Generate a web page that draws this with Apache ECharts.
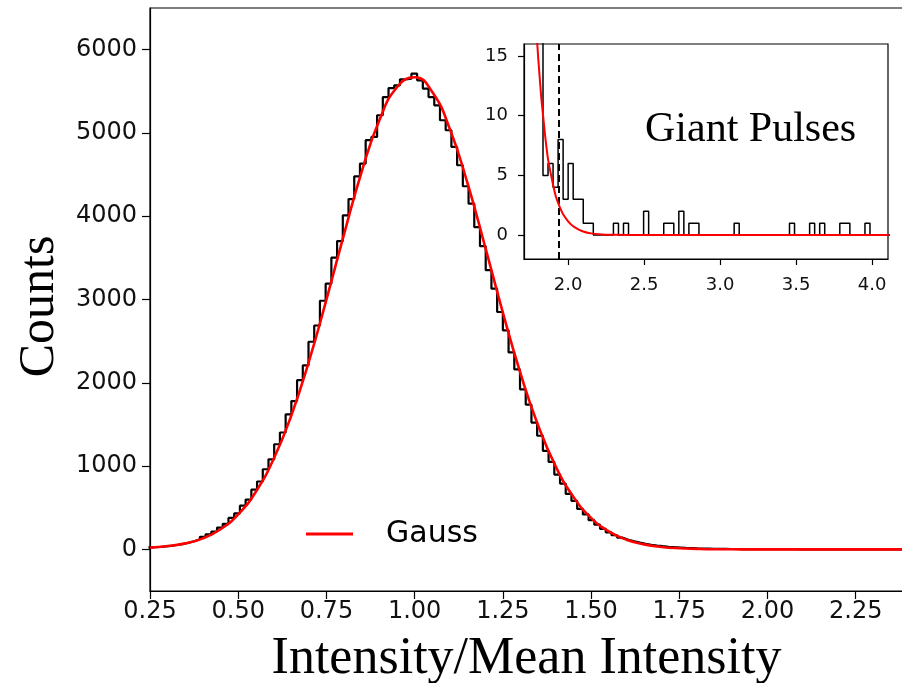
<!DOCTYPE html>
<html><head><meta charset="utf-8">
<script src="https://cdn.jsdelivr.net/npm/echarts@6/dist/echarts.min.js"></script>
<style>html,body{margin:0;padding:0;background:#fff}#c{width:902px;height:683px}</style>
</head><body><div id="c"></div>
<script>
// ---- main histogram (Intensity / Mean Intensity) ----
const histStart = 0.2456;
const histBinWidth = 0.0162;
const histCounts = [
  25, 28, 34, 41, 52, 63, 80, 98, 121, 150,
  181, 214, 262, 306, 377, 431, 524, 598, 716, 815,
  962, 1081, 1262, 1403, 1621, 1780, 2031, 2209, 2493, 2688,
  2985, 3190, 3502, 3702, 4011, 4206, 4478, 4632, 4913, 4952,
  5212, 5431, 5539, 5572, 5644, 5652, 5712, 5632, 5532, 5431,
  5332, 5152, 5032, 4832, 4612, 4360, 4150, 3868, 3640, 3352,
  3130, 2850, 2630, 2365, 2160, 1921, 1738, 1522, 1364, 1183,
  1050, 898, 790, 665, 582, 486, 420, 350, 296, 246,
  205, 170, 140, 116, 96, 80, 66, 55, 46, 38,
  31, 26, 22, 18, 15, 12, 10, 9, 7, 6,
  5, 4, 4, 3, 3, 2, 3, 2, 1, 2,
  1, 1, 1, 0, 1, 0, 1, 0, 0, 1,
  0, 0, 0, 0, 0, 0, 0, 0, 0, 0, 0, 0
];
// ---- Gauss fit curve (main) ----
const gaussX = [0.25,0.30,0.35,0.40,0.45,0.50,0.55,0.60,0.65,0.70,0.75,0.80,0.85,0.90,0.95,1.00,
  1.05,1.10,1.15,1.20,1.25,1.30,1.35,1.40,1.45,1.50,1.55,1.60,1.65,1.70,1.75,1.80,1.85,1.90,1.95,
  2.00,2.10,2.20,2.30,2.40];
const gaussY = [22,40,72,132,242,420,692,1082,1602,2250,2998,3786,4536,5152,5549,5669,
  5491,5044,4393,3629,2843,2112,1487,994,630,378,215,116,60,29,13,6,2,1,0,
  0,0,0,0,0];
const xTicks = [0.25,0.50,0.75,1.00,1.25,1.50,1.75,2.00,2.25];
const yTicks = [0,1000,2000,3000,4000,5000,6000];

// ---- inset: Giant Pulses ----
const insetHistStart = 1.7026;
const insetBinWidth = 0.0331;
const insetCounts = [
  55, 38, 26, 19,
  5, 6, 4, 8, 3, 6, 3, 3, 1, 1,
  0, 0, 0, 0, 1, 0, 1, 0, 0, 0,
  2, 0, 0, 0, 1, 1, 0, 2, 0, 1,
  1, 0, 0, 0, 0, 0, 0, 0, 1, 0,
  0, 0, 0, 0, 0, 0, 0, 0, 0, 1,
  0, 0, 0, 1, 0, 1, 0, 0, 0, 1,
  1, 0, 0, 0, 1, 0, 0, 0, 0, 0,
  0, 0, 0
];
const insetGaussX = [1.70,1.75,1.80,1.85,1.90,1.95,2.00,2.05,2.10,2.15,2.20,2.30,2.50,3.00,3.50,4.11];
const insetGaussY = [50,28,15.5,8.2,4.3,2.2,1.15,0.6,0.3,0.15,0.07,0.02,0,0,0,0];
const insetXTicks = [2.0,2.5,3.0,3.5,4.0];
const insetYTicks = [0,5,10,15];
const gpThreshold = 1.94;

function stepData(start, w, counts) {
  const d = counts.map((c, i) => [start + i * w, c]);
  d.push([start + counts.length * w, counts[counts.length - 1]]);
  return d;
}
function pairs(xs, ys) { return xs.map((x, i) => [x, ys[i]]); }

const tickFont = 'DejaVu Sans';
const serif = 'Liberation Serif';
const ink = '#111';

const chart = echarts.init(document.getElementById('c'), null, {renderer: 'canvas'});
chart.setOption({
  animation: false,
  backgroundColor: '#fff',
  title: {
    text: 'Giant Pulses', left: 640, top: 104,
    textStyle: {fontFamily: serif, fontSize: 42, fontWeight: 'normal', color: '#000'}
  },
  legend: {
    data: ['Gauss'], left: 301, top: 512, icon: 'rect', itemWidth: 47, itemHeight: 3,
    textStyle: {fontFamily: tickFont, fontSize: 30, color: '#000', padding: [0, 0, 0, 28], lineHeight: 34}
  },
  grid: [
    {left: 150, top: 8, width: 753, height: 583, show: true, borderColor: '#000', borderWidth: 1.2,
     backgroundColor: '#fff', outerBoundsMode: 'none', containLabel: false},
    {left: 524, top: 44, width: 364, height: 215, show: true, borderColor: '#000', borderWidth: 1.2,
     backgroundColor: '#fff', z: 5, outerBoundsMode: 'none', containLabel: false}
  ],
  xAxis: [
    {type: 'value', gridIndex: 0, min: 0.25, max: 2.384,
     name: 'Intensity/Mean Intensity', nameLocation: 'middle', nameGap: 42,
     nameTextStyle: {fontFamily: serif, fontSize: 52, color: '#000'},
     axisLine: {show: true, onZero: false, lineStyle: {color: '#000', width: 1.2}},
     axisTick: {show: true, length: 8, customValues: xTicks, lineStyle: {color: '#000', width: 1.2}},
     axisLabel: {customValues: xTicks, margin: 9, fontFamily: tickFont, fontSize: 24, color: ink,
                 formatter: v => v.toFixed(2)},
     splitLine: {show: false}},
    {type: 'value', gridIndex: 1, min: 1.71, max: 4.105,
     axisLine: {show: true, onZero: false, lineStyle: {color: '#000', width: 1.2}},
     axisTick: {show: true, length: 6, customValues: insetXTicks, lineStyle: {color: '#000', width: 1.2}},
     axisLabel: {customValues: insetXTicks, margin: 17, fontFamily: tickFont, fontSize: 18, color: ink,
                 formatter: v => v.toFixed(1)},
     splitLine: {show: false}, z: 6}
  ],
  yAxis: [
    {type: 'value', gridIndex: 0, min: -500, max: 6500,
     name: 'Counts', nameLocation: 'middle', nameGap: 80,
     nameTextStyle: {fontFamily: serif, fontSize: 50, color: '#000', padding: [0, 14, 0, 0]},
     axisLine: {show: true, onZero: false, lineStyle: {color: '#000', width: 1.2}},
     axisTick: {show: true, length: 8, customValues: yTicks, lineStyle: {color: '#000', width: 1.2}},
     axisLabel: {customValues: yTicks, margin: 13, fontFamily: tickFont, fontSize: 24, color: ink,
                 formatter: v => String(Math.round(v))},
     splitLine: {show: false}},
    {type: 'value', gridIndex: 1, min: -2, max: 16,
     axisLine: {show: true, onZero: false, lineStyle: {color: '#000', width: 1.2}},
     axisTick: {show: true, length: 6, customValues: insetYTicks, lineStyle: {color: '#000', width: 1.2}},
     axisLabel: {customValues: insetYTicks, margin: 16, fontFamily: tickFont, fontSize: 18, color: ink,
                 formatter: v => String(Math.round(v))},
     splitLine: {show: false}, z: 6}
  ],
  series: [
    {name: 'Histogram', type: 'line', xAxisIndex: 0, yAxisIndex: 0, step: 'end', showSymbol: false,
     data: stepData(histStart, histBinWidth, histCounts), clip: true, silent: true, z: 2,
     lineStyle: {color: '#000', width: 2.2}},
    {name: 'Gauss', type: 'line', xAxisIndex: 0, yAxisIndex: 0, smooth: 0.5, showSymbol: false,
     data: pairs(gaussX, gaussY), clip: true, silent: true, z: 3, color: '#ff0000',
     lineStyle: {color: '#ff0000', width: 2.6}},
    {name: 'GP Histogram', type: 'line', xAxisIndex: 1, yAxisIndex: 1, step: 'end', showSymbol: false,
     data: stepData(insetHistStart, insetBinWidth, insetCounts), clip: true, silent: true, z: 7,
     lineStyle: {color: '#000', width: 1.5},
     markLine: {silent: true, symbol: 'none', label: {show: false},
                lineStyle: {color: '#000', type: [7, 4], width: 2},
                data: [{xAxis: gpThreshold}]}},
    {name: 'GP Gauss', type: 'line', xAxisIndex: 1, yAxisIndex: 1, smooth: 0.5, showSymbol: false,
     data: pairs(insetGaussX, insetGaussY), clip: true, silent: true, z: 8,
     lineStyle: {color: '#ff0000', width: 2}}
  ]
});
</script></body></html>
